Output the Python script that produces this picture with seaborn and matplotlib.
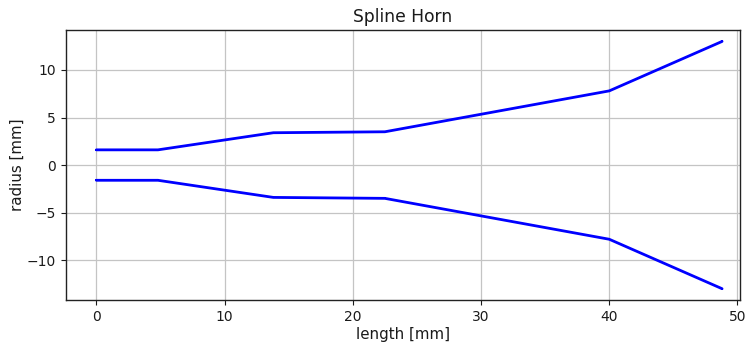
import matplotlib
matplotlib.use("Agg")
import matplotlib.pyplot as plt
import seaborn as sns
import pandas as pd

# Horn profile knots: axial position and radius
length_mm = [0.0, 4.8, 13.8, 22.5, 40.0, 48.8]
radius_mm = [1.6, 1.6, 3.4, 3.5, 7.8, 13.0]

upper = pd.DataFrame({"length": length_mm, "radius": radius_mm})
lower = pd.DataFrame({"length": length_mm, "radius": [-r for r in radius_mm]})

sns.set_style("ticks")
plt.rcParams["font.family"] = ["DejaVu Sans"]
plt.rcParams["text.color"] = "#1a1a1a"
plt.rcParams["axes.labelcolor"] = "#1a1a1a"
plt.rcParams["xtick.color"] = "#1a1a1a"
plt.rcParams["ytick.color"] = "#1a1a1a"

fig = plt.figure(figsize=(7.46, 3.43), dpi=100)
ax = fig.add_axes([0.088, 0.125, 0.904, 0.7875])

for df in (upper, lower):
    sns.lineplot(data=df, x="length", y="radius", ax=ax, color="blue",
                 linewidth=2, marker="s", markersize=1.5,
                 markeredgewidth=0, estimator=None, sort=False)

ax.set_xlim(-2.4, 50.2)
ax.set_ylim(-14.2, 14.2)
ax.set_xticks([0, 10, 20, 30, 40, 50])
ax.set_yticks([-10, -5, 0, 5, 10])
ax.grid(True, color="#c4c4c4", linewidth=0.9)
for s in ax.spines.values():
    s.set_color("#222222")
    s.set_linewidth(1.0)
ax.tick_params(labelsize=10, length=3.5, width=0.8)
ax.set_xlabel("length [mm]", fontsize=10.8, labelpad=2)
ax.set_ylabel("radius [mm]", fontsize=10.8, labelpad=1)
ax.set_title("Spline Horn", fontsize=12.3)

fig.savefig("out.png", dpi=100)
